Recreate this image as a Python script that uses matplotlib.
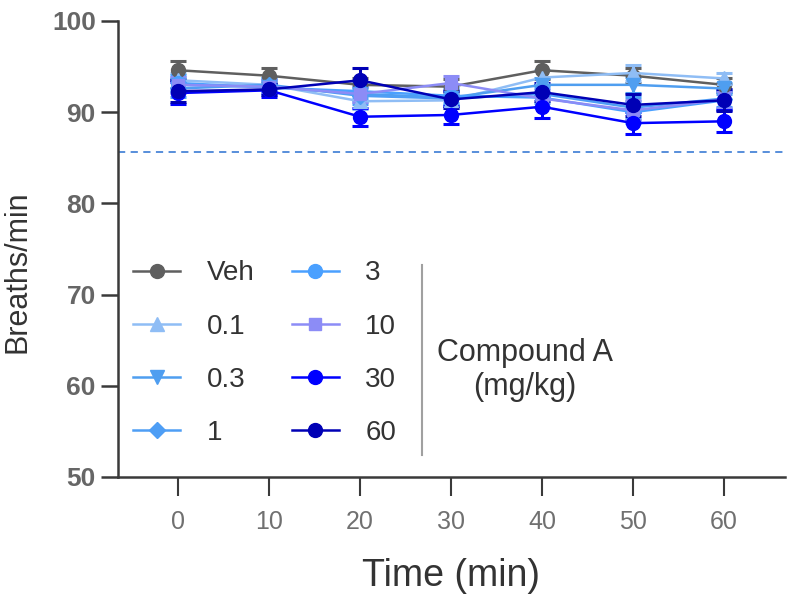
import numpy as np
import matplotlib.pyplot as plt
from matplotlib.lines import Line2D

plt.rcParams['font.family'] = ['Liberation Sans', 'DejaVu Sans']

# breathing rate over time per dose group (mean and SEM)
time = np.array([0, 10, 20, 30, 40, 50, 60])
groups = ['Veh', '0.1', '0.3', '1', '3', '10', '30', '60']

veh = [94.6, 94.0, 93.0, 92.8, 94.6, 94.0, 93.0]
d01 = [93.5, 93.0, 91.2, 91.3, 93.8, 94.3, 93.7]
d03 = [93.0, 92.8, 92.0, 91.6, 93.0, 93.0, 92.6]
d1 = [92.6, 93.0, 91.8, 91.5, 92.0, 90.5, 91.5]
d3 = [93.2, 92.7, 92.3, 91.8, 91.6, 90.0, 91.3]
d10 = [93.0, 92.8, 92.0, 93.2, 91.5, 90.2, 91.4]
d30 = [92.1, 92.4, 89.5, 89.7, 90.6, 88.8, 89.0]
d60 = [92.3, 92.5, 93.5, 91.4, 92.2, 90.8, 91.3]

veh_sem = [1.0, 0.8, 0.8, 0.8, 1.0, 0.8, 0.8]
d01_sem = [0.8, 0.7, 0.8, 0.8, 0.8, 0.9, 0.6]
d03_sem = [0.8, 0.7, 0.8, 0.8, 0.8, 0.9, 0.6]
d1_sem = [0.9, 0.7, 0.9, 0.8, 1.0, 1.2, 0.9]
d3_sem = [0.9, 0.7, 0.9, 0.8, 1.0, 1.2, 0.9]
d10_sem = [0.9, 0.7, 0.9, 0.8, 0.9, 1.1, 0.9]
d30_sem = [1.2, 0.7, 1.0, 1.0, 1.2, 1.2, 1.2]
d60_sem = [1.2, 0.6, 1.4, 0.9, 1.0, 1.2, 1.2]

baseline = 85.6

means = [veh, d01, d03, d1, d3, d10, d30, d60]
sems = [veh_sem, d01_sem, d03_sem, d1_sem, d3_sem, d10_sem, d30_sem, d60_sem]
colors = ['#5f5f5f', '#8fbdf5', '#4f9ef0', '#4e9ef5', '#4aa0ff', '#8c8cf6', '#0000ff', '#0000b5']
markers = ['o', '^', 'v', 'D', 'o', 's', 'o', 'o']
msizes = [10, 10, 10, 8, 10, 9, 10, 10]

fig = plt.figure(figsize=(7.87, 5.96), dpi=100)
ax = fig.add_axes([118 / 787, 1 - 477 / 596, 667 / 787, 456 / 596])

for name, m, s, c, mk, ms in zip(groups, means, sems, colors, markers, msizes):
    ax.errorbar(time, m, yerr=s, color=c, marker=mk, markersize=ms, lw=1.8,
                capsize=6, capthick=2.2, elinewidth=2.2, label=name)

ax.axhline(baseline, color='#4a86d8', lw=1.3, ls=(0, (4, 3)))

ax.set_xlim(-6.6, 66.7)
ax.set_ylim(50, 100)
ax.set_yticks([50, 60, 70, 80, 90, 100])
ax.set_xticks(time)
for side in ['top', 'right']:
    ax.spines[side].set_visible(False)
for side in ['left', 'bottom']:
    ax.spines[side].set_color('#3a3a3a')
    ax.spines[side].set_linewidth(1.8)
ax.tick_params(axis='y', length=12, width=1.8, color='#3a3a3a', labelsize=19,
               labelcolor='#666666', pad=4)
ax.tick_params(axis='x', length=14, width=1.5, color='#3a3a3a', labelsize=18,
               labelcolor='#707070', pad=10)
for lab in ax.get_yticklabels():
    lab.set_fontweight('bold')
ax.set_ylabel('Breaths/min', fontsize=22, color='#333333')
ax.yaxis.set_label_coords(-0.128, 0.45)
ax.set_xlabel('Time (min)', fontsize=27, color='#333333', labelpad=17)

handles = [Line2D([], [], color=c, marker=mk, markersize=ms, lw=1.8)
           for c, mk, ms in zip(colors, markers, msizes)]
leg = ax.legend(handles, groups, ncol=2, loc='upper left',
                bbox_to_anchor=(-0.015, 0.53), frameon=False, fontsize=20,
                handlelength=1.7, handletextpad=0.95, columnspacing=1.34,
                labelspacing=0.98, labelcolor='#333333')

fig.add_artist(Line2D([422 / 787, 422 / 787], [1 - 455 / 596, 1 - 265 / 596],
                      color='#a0a0a0', lw=1.5))
fig.text(525 / 787, 1 - 370 / 596, 'Compound A\n(mg/kg)', ha='center', va='center',
         fontsize=22, color='#333333', linespacing=1.2)

fig.savefig('out.png', dpi=100)
